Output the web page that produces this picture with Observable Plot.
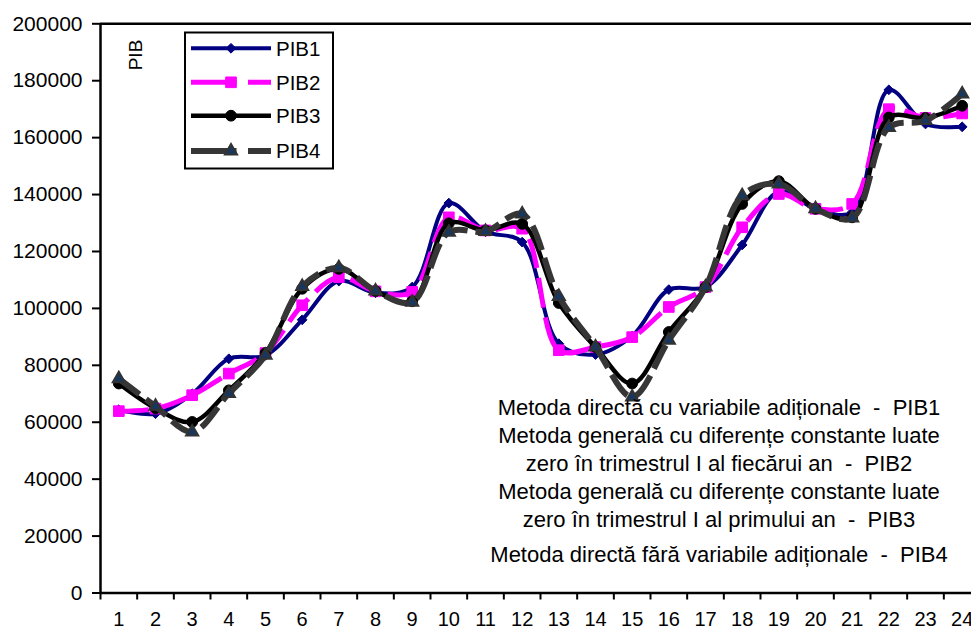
<!DOCTYPE html>
<html><head><meta charset="utf-8">
<script src="https://cdn.jsdelivr.net/npm/d3@7"></script>
<script src="https://cdn.jsdelivr.net/npm/@observablehq/plot@0.6"></script>
<style>html,body{margin:0;padding:0;overflow:hidden;background:#fff}</style>
</head><body><div id="chart"></div>
<script>
const quarters = d3.range(1, 25);
const pib1 = [64400, 63000, 70000, 82300, 83500, 96000, 109600, 105500, 107500, 137000, 127000, 123300, 87600, 83800, 90300, 106600, 107500, 122300, 141000, 135000, 133800, 176800, 164800, 163800];
const pib2 = [63900, 64800, 69500, 77100, 84300, 101100, 111000, 106000, 105800, 132000, 127400, 128000, 85300, 86400, 89900, 100500, 107500, 128500, 140200, 135000, 136700, 170000, 166900, 168500];
const pib3 = [73600, 64900, 60100, 71200, 84300, 106900, 113900, 106100, 102500, 129900, 127400, 129700, 101900, 86400, 73600, 91700, 107500, 136700, 144700, 135000, 132000, 167100, 166900, 171200];
const pib4 = [75300, 65600, 56600, 70100, 83500, 107700, 114300, 106100, 102200, 126800, 127000, 133200, 104200, 86400, 68900, 88800, 107500, 139600, 143700, 135000, 131800, 163600, 166000, 175300];
const seriesNames = ["PIB1", "PIB2", "PIB3", "PIB4"];
const yTicks = d3.range(0, 200001, 20000);
const yLabel = "PIB";
const notes = [
  "Metoda directă cu variabile adiționale  -  PIB1",
  "Metoda generală cu diferențe constante luate",
  "zero în trimestrul I al fiecărui an  -  PIB2",
  "Metoda generală cu diferențe constante luate",
  "zero în trimestrul I al primului an  -  PIB3",
  "Metoda directă fără variabile adiționale  -  PIB4"
];

const FONT = "'Liberation Sans', Arial, sans-serif";
const values = {PIB1: pib1, PIB2: pib2, PIB3: pib3, PIB4: pib4};
const styles = {
  PIB1: {stroke: "#000080", width: 4, dash: null, symbol: "diamond2", r: 4.4, fill: "#000080", mstroke: "#000080", msw: 1},
  PIB2: {stroke: "#FF00FF", width: 5, dash: "30,10", symbol: "square", r: 6, fill: "#FF00FF", mstroke: "#FF00FF", msw: 1},
  PIB3: {stroke: "#000000", width: 4.5, dash: null, symbol: "circle", r: 5.4, fill: "#000000", mstroke: "#000000", msw: 1},
  PIB4: {stroke: "#363636", width: 6, dash: "26,8", symbol: "triangle", r: 4.5, fill: "#17375E", mstroke: "#333333", msw: 2}
};
const boundaries = d3.range(0.5, 25, 1);

const marks = [];
for (const s of seriesNames) {
  const st = styles[s];
  const rows = values[s].map((v, i) => ({q: quarters[i], v, s}));
  marks.push(Plot.line(rows, {x: "q", y: "v", stroke: st.stroke, strokeWidth: st.width, strokeDasharray: st.dash, curve: "catmull-rom", strokeLinecap: "butt"}));
  marks.push(Plot.dot(rows, {x: "q", y: "v", symbol: st.symbol, r: st.r, fill: st.fill, stroke: st.mstroke, strokeWidth: st.msw}));
}

const svg = Plot.plot({
  width: 971, height: 630,
  marginLeft: 100, marginTop: 23, marginBottom: 37.5, marginRight: 0,
  x: {type: "linear", domain: [0.5, 24.5], range: [100, 980]},
  y: {domain: [0, 200000], range: [592.5, 23.3]},
  style: {fontFamily: FONT, fontSize: "21px", color: "black", background: "white", overflow: "visible"},
  marks: [
    Plot.axisY({ticks: yTicks, tickFormat: d3.format("d"), tickSize: 8, tickPadding: 10, strokeWidth: 2, label: null, fontSize: 21}),
    Plot.axisX({ticks: boundaries, tickFormat: () => "", tickSize: 7, strokeWidth: 2, label: null}),
    Plot.axisX({ticks: quarters, tickFormat: d3.format("d"), tickSize: 0, tickPadding: 19, label: null, fontSize: 20}),
    Plot.ruleY([0], {strokeWidth: 2.5}),
    Plot.ruleY([200000], {strokeWidth: 2.5}),
    Plot.ruleX([0.5], {y1: 0, y2: 200000, strokeWidth: 2.5}),
    ...marks
  ]
});
document.getElementById("chart").appendChild(svg);

const g = d3.select(svg).append("g").attr("font-family", FONT).attr("text-anchor", "start");
// rotated axis label
g.append("text").attr("transform", "translate(142,55) rotate(-90)").attr("text-anchor", "middle")
  .attr("font-size", 19).text(yLabel);

// legend
const leg = g.append("g");
leg.append("rect").attr("x", 185).attr("y", 32.5).attr("width", 148).attr("height", 136)
  .attr("fill", "white").attr("stroke", "black").attr("stroke-width", 2);
const symMap = {diamond2: d3.symbolDiamond2 || d3.symbolDiamond, square: d3.symbolSquare, circle: d3.symbolCircle, triangle: d3.symbolTriangle};
const legY = [48.3, 82.3, 115.7, 151];
seriesNames.forEach((s, i) => {
  const st = styles[s];
  const cy = legY[i];
  leg.append("line").attr("x1", 191).attr("x2", 271).attr("y1", cy).attr("y2", cy)
    .attr("stroke", st.stroke).attr("stroke-width", st.width)
    .attr("stroke-dasharray", st.dash ? "45.5,11.5" : null);
  leg.append("path").attr("transform", `translate(231,${cy})`)
    .attr("d", d3.symbol(symMap[st.symbol], Math.PI * st.r * st.r)())
    .attr("fill", st.fill).attr("stroke", st.mstroke).attr("stroke-width", st.msw);
  leg.append("text").attr("x", 276).attr("y", cy).attr("dy", "0.36em")
    .attr("text-anchor", "start").attr("font-size", 20.5).text(s);
});

// notes
const baselines = [415, 443.3, 471, 499, 526.7, 561.7];
notes.forEach((t, i) => {
  g.append("text").attr("x", 719).attr("y", baselines[i]).attr("text-anchor", "middle")
    .attr("font-size", 22).style("white-space", "pre").text(t);
});
</script></body></html>
